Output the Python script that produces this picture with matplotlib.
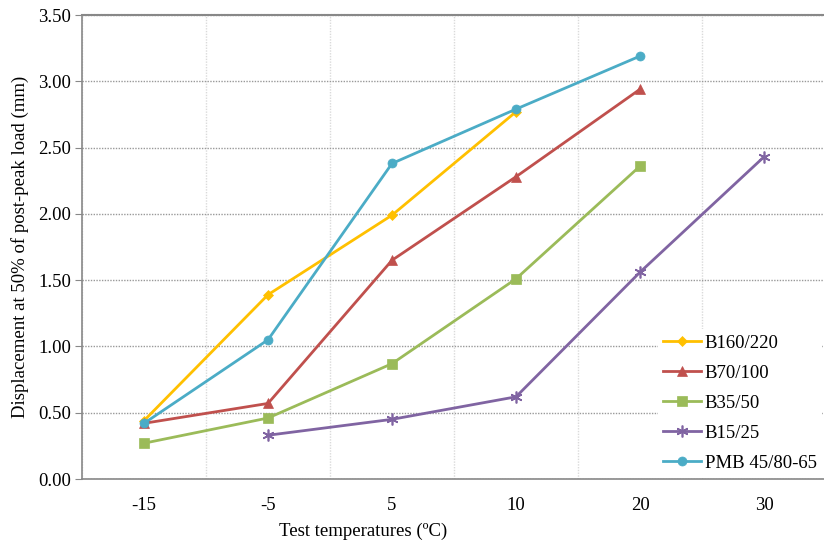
import matplotlib
matplotlib.use("Agg")
import matplotlib.pyplot as plt
import numpy as np

categories = ["-15", "-5", "5", "10", "20", "30"]
series_names = ["B160/220", "B70/100", "B35/50", "B15/25", "PMB 45/80-65"]
b160 = [0.44, 1.39, 1.99, 2.77, None, None]
b70 = [0.42, 0.57, 1.65, 2.28, 2.94, None]
b35 = [0.27, 0.46, 0.87, 1.51, 2.36, None]
b15 = [None, 0.33, 0.45, 0.62, 1.56, 2.43]
pmb = [0.42, 1.05, 2.38, 2.79, 3.19, None]

colors = ["#FFC000", "#C0504D", "#9BBB59", "#8064A2", "#4BACC6"]
markers = ["D", "^", "s", (6, 2, 0), "o"]
msizes = [5.5, 7.5, 6.5, 8.5, 6.5]

plt.rcParams['font.family'] = ['Liberation Serif', 'DejaVu Serif']

fig = plt.figure(figsize=(8.24, 5.42), dpi=100)
ax = fig.add_axes([82/824, 63/542, 744/824, 464/542])

x = np.arange(len(categories))
for name, vals, c, m, ms in zip(series_names, [b160, b70, b35, b15, pmb], colors, markers, msizes):
    xs = [xi for xi, v in zip(x, vals) if v is not None]
    ys = [v for v in vals if v is not None]
    ax.plot(xs, ys, color=c, lw=2.0, marker=m, markersize=ms,
            markeredgecolor=c, markerfacecolor=c,
            markeredgewidth=1.2 if m == (6, 2, 0) else 0.5, label=name)

ax.set_xlim(-0.5, 5.5)
ax.set_ylim(0, 3.5)
ax.set_yticks(np.arange(0, 3.51, 0.5))
ax.set_yticklabels([f"{v:.2f}" for v in np.arange(0, 3.51, 0.5)], fontsize=13.5)
ax.set_xticks(x)
ax.set_xticklabels(categories, fontsize=13.5)
ax.set_xticks(np.arange(-0.5, 5.6, 0.5), minor=True)

ax.tick_params(axis='x', which='both', length=0, pad=13)
ax.tick_params(axis='y', which='major', length=5, color='#888888', pad=3, direction='out')
ax.tick_params(axis='y', which='minor', length=0)

ax.grid(axis='y', which='major', color='#999999', linestyle=(0, (1, 1)), lw=1.0)
ax.grid(axis='x', which='minor', color='#dadada', linestyle=(0, (1, 1)), lw=1.0)
ax.set_axisbelow(True)

ax.spines['right'].set_visible(False)
ax.spines['top'].set_color('#888888')
ax.spines['top'].set_linestyle((0, (1, 0.6)))
ax.spines['top'].set_linewidth(1.5)
ax.spines['left'].set_color('#888888')
ax.spines['left'].set_linewidth(1.2)
ax.spines['bottom'].set_color('#888888')
ax.spines['bottom'].set_linewidth(1.2)

ax.set_ylabel("Displacement at 50% of post-peak load (mm)", fontsize=13.5)
ax.yaxis.set_label_coords(-0.071, 0.5)
ax.set_xlabel("Test temperatures (ºC)", fontsize=13.5)
ax.xaxis.set_label_coords(0.378, -0.094)

leg = ax.legend(loc='lower right', bbox_to_anchor=((824 - 82) / 744, 0.0),
                frameon=True, fontsize=13.5, handlelength=2.0, handletextpad=0.2,
                labelspacing=0.68, borderpad=0.3, borderaxespad=0.1)
leg.get_frame().set_edgecolor('none')
leg.get_frame().set_facecolor('white')
leg.get_frame().set_alpha(1.0)

fig.savefig("out.png", dpi=100)
